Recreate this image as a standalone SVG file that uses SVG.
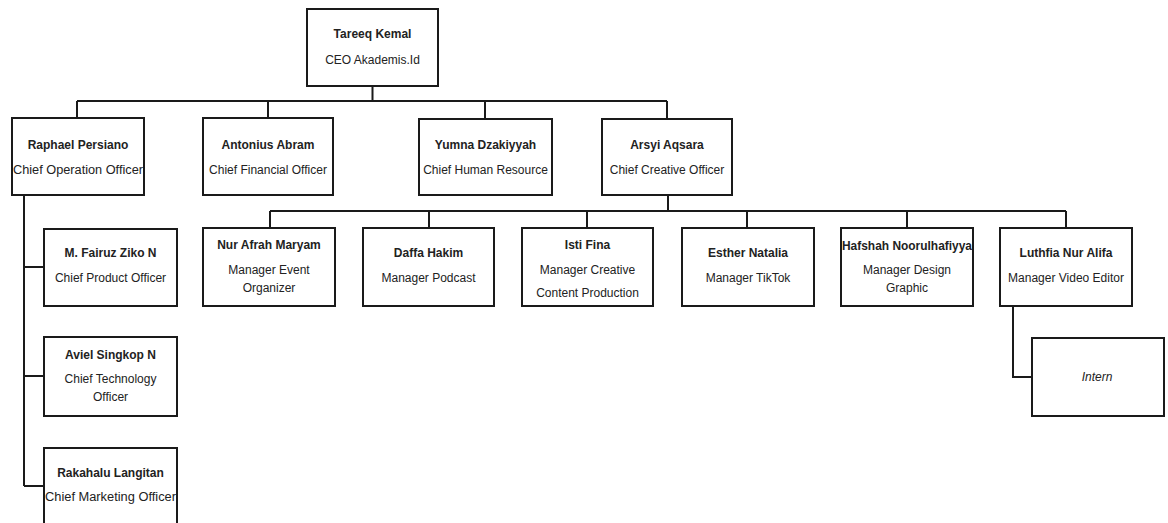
<svg xmlns="http://www.w3.org/2000/svg" width="1168" height="523" viewBox="0 0 1168 523">
<style>
.box{fill:#fff;stroke:#1a1a1a;stroke-width:2}
.ln{fill:none;stroke:#1a1a1a;stroke-width:2}
text{font-family:"Liberation Sans",Arial,sans-serif;font-size:12px;fill:#222;text-anchor:middle}
.n{font-weight:bold}
.i{font-style:italic}
</style>
<rect width="1168" height="523" fill="#fff"/>
<g id="connectors">
<path class="ln" d="M372.5 86V101M77 101H667M77 101V118M268 101V118M485 101V119M667 101V119"/>
<path class="ln" d="M24 195V486M24 267H44M24 376H44M24 486H44"/>
<path class="ln" d="M668 195V211M270 211H1066M270 211V228M429 211V228M587 211V228M747 211V228M907 211V228M1066 211V228"/>
<path class="ln" d="M1013 306V377H1032"/>
</g>
<g id="ceo"><rect class="box" x="307" y="9" width="131" height="77"/><text class="n" x="372.5" y="38">Tareeq Kemal</text><text x="372.5" y="64">CEO Akademis.Id</text></g>
<g id="raphael"><rect class="box" x="12" y="118" width="132" height="77"/><text class="n" x="78" y="149">Raphael Persiano</text><text x="78" y="174" textLength="130" lengthAdjust="spacingAndGlyphs">Chief Operation Officer</text></g>
<g id="antonius"><rect class="box" x="203" y="118" width="130" height="77"/><text class="n" x="268" y="149">Antonius Abram</text><text x="268" y="174">Chief Financial Officer</text></g>
<g id="yumna"><rect class="box" x="419" y="119" width="133" height="76"/><text class="n" x="485.5" y="149">Yumna Dzakiyyah</text><text x="485.5" y="174">Chief Human Resource</text></g>
<g id="arsyi"><rect class="box" x="602" y="119" width="130" height="76"/><text class="n" x="667" y="149">Arsyi Aqsara</text><text x="667" y="174">Chief Creative Officer</text></g>
<g id="fairuz"><rect class="box" x="44" y="229" width="133" height="77"/><text class="n" x="110.5" y="257">M. Fairuz Ziko N</text><text x="110.5" y="282">Chief Product Officer</text></g>
<g id="aviel"><rect class="box" x="44" y="337" width="133" height="79"/><text class="n" x="110.5" y="359">Aviel Singkop N</text><text x="110.5" y="383">Chief Technology</text><text x="110.5" y="401">Officer</text></g>
<g id="rakahalu"><rect class="box" x="44" y="448" width="133" height="90"/><text class="n" x="110.5" y="477">Rakahalu Langitan</text><text x="110.5" y="501" textLength="131" lengthAdjust="spacingAndGlyphs">Chief Marketing Officer</text></g>
<g id="nur"><rect class="box" x="203" y="228" width="132" height="78"/><text class="n" x="269" y="249">Nur Afrah Maryam</text><text x="269" y="274">Manager Event</text><text x="269" y="292">Organizer</text></g>
<g id="daffa"><rect class="box" x="363" y="228" width="131" height="78"/><text class="n" x="428.5" y="257">Daffa Hakim</text><text x="428.5" y="282">Manager Podcast</text></g>
<g id="isti"><rect class="box" x="522" y="228" width="131" height="78"/><text class="n" x="587.5" y="249">Isti Fina</text><text x="587.5" y="274">Manager Creative</text><text x="587.5" y="297">Content Production</text></g>
<g id="esther"><rect class="box" x="682" y="228" width="132" height="78"/><text class="n" x="748" y="257">Esther Natalia</text><text x="748" y="282">Manager TikTok</text></g>
<g id="hafshah"><rect class="box" x="841" y="228" width="132" height="78"/><text class="n" x="907" y="250" textLength="130" lengthAdjust="spacingAndGlyphs">Hafshah Noorulhafiyya</text><text x="907" y="274">Manager Design</text><text x="907" y="292">Graphic</text></g>
<g id="luthfia"><rect class="box" x="1000" y="228" width="132" height="78"/><text class="n" x="1066" y="257">Luthfia Nur Alifa</text><text x="1066" y="282">Manager Video Editor</text></g>
<g id="intern"><rect class="box" x="1032" y="338" width="132" height="78"/><text class="i" x="1097" y="381">Intern</text></g>
</svg>
